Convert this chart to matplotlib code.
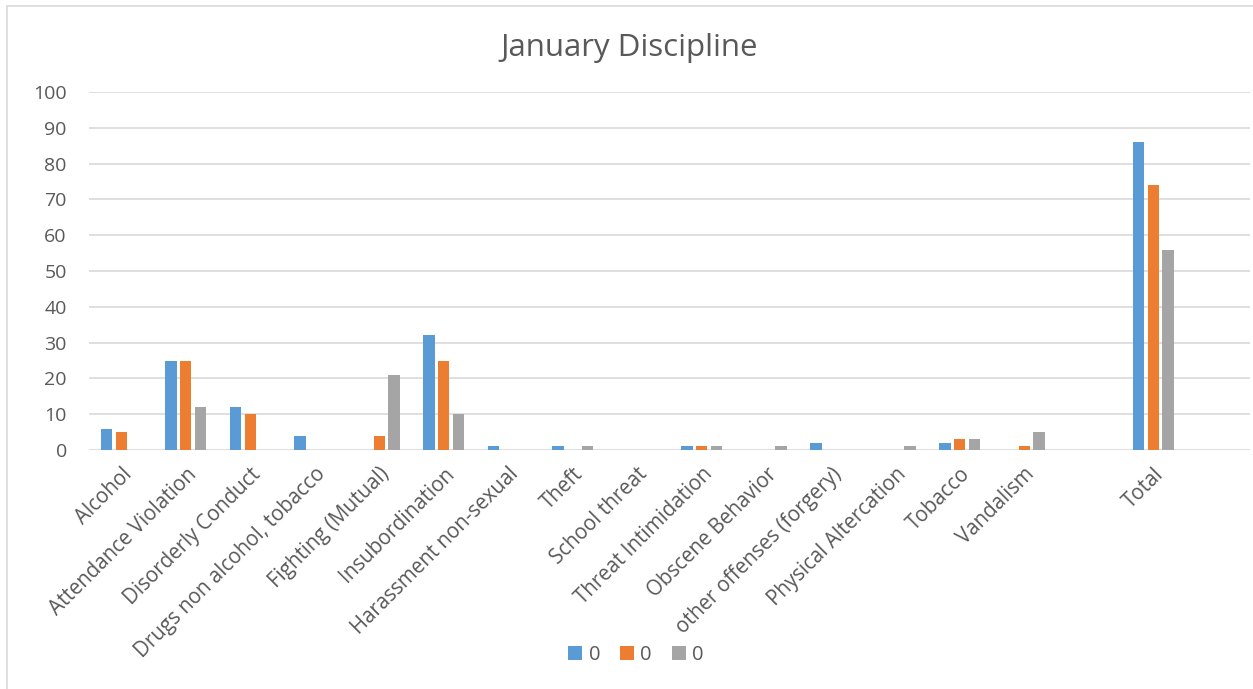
import matplotlib
matplotlib.use("Agg")
import matplotlib.pyplot as plt
import numpy as np
from matplotlib.patches import Rectangle

plt.rcParams['font.family'] = ['Open Sans', 'DejaVu Sans']

categories = ["Alcohol", "Attendance Violation", "Disorderly Conduct",
              "Drugs non alcohol, tobacco", "Fighting (Mutual)", "Insubordination",
              "Harassment non-sexual", "Theft", "School threat", "Threat Intimidation",
              "Obscene Behavior", "other offenses (forgery)", "Physical Altercation",
              "Tobacco", "Vandalism", "", "Total", ""]
series1 = [6, 25, 12, 4, 0, 32, 1, 1, 0, 1, 0, 2, 0, 2, 0, 0, 86, 0]
series2 = [5, 25, 10, 0, 4, 25, 0, 0, 0, 1, 0, 0, 0, 3, 1, 0, 74, 0]
series3 = [0, 12, 0, 0, 21, 10, 0, 1, 0, 1, 1, 0, 1, 3, 5, 0, 56, 0]
series_names = ["0", "0", "0"]
colors = ["#5B9BD5", "#ED7D31", "#A5A5A5"]
yticks = [0, 10, 20, 30, 40, 50, 60, 70, 80, 90, 100]

W, H = 1253, 689
fig = plt.figure(figsize=(W / 100, H / 100), dpi=100)
fig.patches.append(Rectangle((7 / W, -0.01), 1.05, 1 - 6 / H + 0.01,
                             transform=fig.transFigure, fill=False,
                             edgecolor="#D9D9D9", linewidth=1.2))

ax = fig.add_axes([89 / W, 1 - 450 / H, (1250 - 89) / W, (450 - 92) / H])
x = np.arange(len(categories))
bw = 0.178
offs = [-0.225, 0.0, 0.225]
for vals, off, c, n in zip([series1, series2, series3], offs, colors, series_names):
    ax.bar(x + off, vals, width=bw, color=c, label=n, zorder=3)

ax.set_xlim(-0.5, len(categories) - 0.5)
ax.set_ylim(0, 100)
ax.set_yticks(yticks)
ax.set_yticklabels([str(v) for v in yticks], fontsize=14, color="#595959")
ax.yaxis.grid(True, color="#D9D9D9", linewidth=1.2, zorder=0)
ax.tick_params(axis='y', length=0, pad=16)
ax.tick_params(axis='x', length=0, pad=10)
for s in ax.spines.values():
    s.set_visible(False)
ax.set_xticks(x)
ax.set_xticklabels(categories, rotation=45, ha='right', va='top',
                   rotation_mode='anchor', fontsize=14.8, color="#595959")

fig.text(629 / W, 1 - 48 / H, "January Discipline", ha='center', va='center',
         fontsize=22.5, color="#595959")

fig.legend(loc='center', bbox_to_anchor=(636 / W, 1 - 655 / H), ncol=3,
           frameon=False, fontsize=14.5, labelcolor="#595959",
           handlelength=0.7, handleheight=0.7, handletextpad=0.3, columnspacing=1.0)

fig.savefig("out.png", dpi=100, facecolor="white")
